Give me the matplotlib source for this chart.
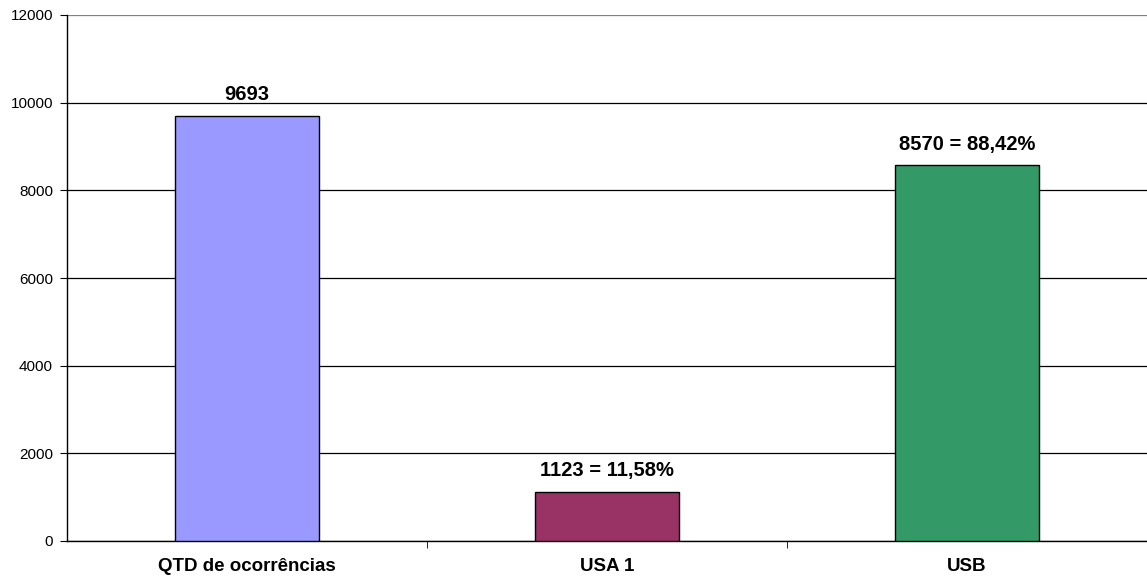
import matplotlib
matplotlib.use('Agg')
import matplotlib.pyplot as plt
import numpy as np

categories = ['QTD de ocorrências', 'USA 1', 'USB']
values = [9693, 1123, 8570]
bar_labels = ['9693', '1123 = 11,58%', '8570 = 88,42%']
colors = ['#9999FF', '#993366', '#339966']

plt.rcParams['font.family'] = ['Liberation Sans', 'DejaVu Sans']

fig = plt.figure(figsize=(11.47, 5.81), dpi=100)
ax = fig.add_axes([67 / 1147, 40 / 581, 1 - 67 / 1147, 526 / 581])

x = np.arange(len(categories))
ax.bar(x, values, width=0.4, color=colors, edgecolor='black', linewidth=1, zorder=3)
for xi, v, lab in zip(x, values, bar_labels):
    ax.text(xi, v + 270, lab, ha='center', va='bottom', fontsize=14.5, fontweight='bold')

ax.set_xlim(-0.5, 2.5)
ax.set_ylim(0, 12000)
ax.set_yticks(np.arange(0, 12001, 2000))
ax.yaxis.grid(True, color='black', linewidth=0.9, zorder=0)
ax.get_ygridlines()[-1].set_color('#808080')
ax.set_xticks(x)
ax.set_xticklabels(categories, fontsize=13.5, fontweight='bold')
ax.tick_params(axis='x', length=0, pad=12)
ax.set_xticks([0.5, 1.5], minor=True)
ax.tick_params(axis='x', which='minor', length=5, direction='out')
ax.tick_params(axis='y', labelsize=11, length=5, pad=5)
for s in ['top', 'right']:
    ax.spines[s].set_visible(False)
ax.spines['left'].set_linewidth(1)
ax.spines['bottom'].set_linewidth(1)

fig.savefig('out.png', dpi=100)
